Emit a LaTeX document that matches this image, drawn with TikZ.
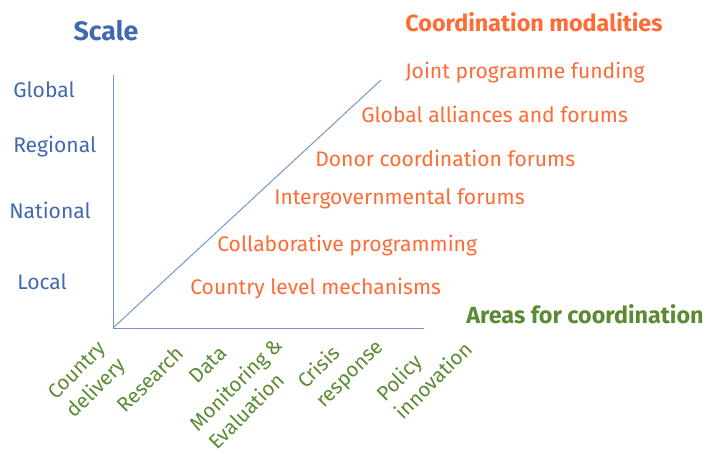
\documentclass[tikz,border=0pt]{standalone}
\usepackage{fontspec}
\setmainfont{Fira Sans}
\usepackage{tikz}
\usetikzlibrary{positioning, calc}
\usepackage{xcolor}
\definecolor{scaleblue}{HTML}{4169B0}
\definecolor{axisblue}{HTML}{7393D2}
\definecolor{modorange}{HTML}{FF6A35}
\definecolor{areagreen}{HTML}{5A8A32}
\tikzstyle{lvl} = [%
  anchor=west,
  inner sep=0pt,
  text=scaleblue,
  font=\fontsize{15}{17}\selectfont
]
\tikzstyle{mdl} = [%
  anchor=west,
  inner sep=0pt,
  text=modorange,
  font=\fontsize{15}{17}\selectfont
]
\tikzstyle{area} = [%
  rotate=45,
  inner sep=0pt,
  align=left,
  text=areagreen,
  font=\fontsize{14.5}{18.5}\selectfont
]
\tikzstyle{ttl} = [%
  inner sep=0pt,
  font=\fontsize{16.6}{18}\selectfont\bfseries
]

\begin{document}
\begin{tikzpicture}[%
  x=0.025cm, y=-0.025cm,
  axis/.style={draw=axisblue, line width=0.7pt}
]
  \useasboundingbox (0,0) rectangle (705,452);

  % Axes
  \coordinate (O) at (113,328);
  \coordinate (Ytop) at (113,75);
  \coordinate (Xend) at (424,328);
  \coordinate (Dtop) at (381,80);
  \draw[axis] (Ytop) -- (O) -- (Xend);
  \draw[axis] (O) -- (Dtop);

  % Titles
  \node[ttl,text=scaleblue,font=\fontsize{19}{20}\selectfont\bfseries] (Tscale) at (106,31) {Scale};
  \node[ttl,text=modorange] (Tmod) at (534,22) {Coordination modalities};
  \node[ttl,text=areagreen] (Tarea) at (585,314) {Areas for coordination};

  % Scale levels
  \node[lvl] (L1) at (13,90) {Global};
  \node[lvl] (L2) at (13,147) {Regional};
  \node[lvl] (L3) at (9,210) {National};
  \node[lvl] (L4) at (17,282) {Local};

  % Coordination modalities
  \node[mdl] (M1) at (405,73) {Joint programme funding};
  \node[mdl] (M2) at (361,114) {Global alliances and forums};
  \node[mdl] (M3) at (315,158) {Donor coordination forums};
  \node[mdl] (M4) at (274,199) {Intergovernmental forums};
  \node[mdl] (M5) at (217,246) {Collaborative programming};
  \node[mdl] (M6) at (190,289) {Country level mechanisms};

  % Areas for coordination
  \node[area] (A1) at (88,380) {Country\\delivery};
  \node[area] (A2) at (150,379) {Research};
  \node[area] (A3) at (208,365) {Data};
  \node[area] (A4) at (245,393) {Monitoring \&\\Evaluation};
  \node[area] (A5) at (341,365) {Crisis\\response};
  \node[area] (A6) at (424,371) {Policy\\innovation};

\end{tikzpicture}
\end{document}
